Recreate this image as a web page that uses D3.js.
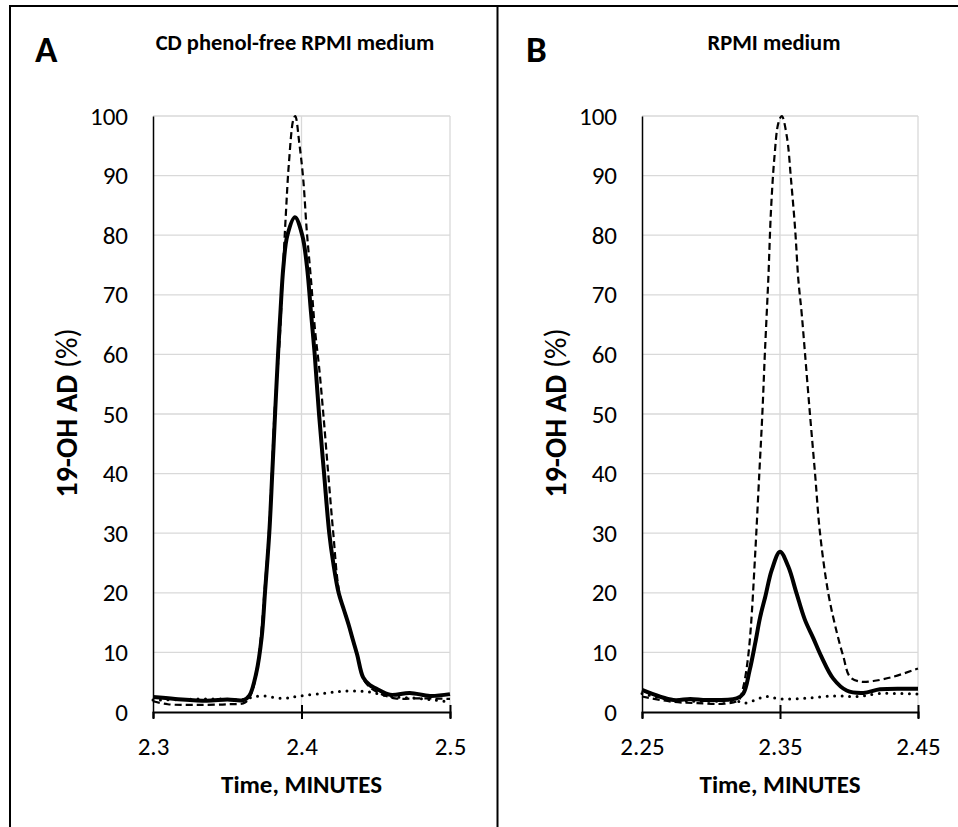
<!DOCTYPE html>
<html lang="en">
<head>
    <meta charset="UTF-8">
    <title>19-OH AD chromatograms</title>
    <style>
        body {
            margin: 0;
            padding: 0;
            background-color: #fff;
        }
        svg text {
            font-family: Calibri, Carlito, Lato, sans-serif;
            fill: #000;
        }
        .grid line {
            stroke: #d9d9d9;
            stroke-width: 1.3;
        }
    </style>
    <script src="https://d3js.org/d3.v7.min.js"></script>
</head>
<body>
    <svg id="chart" width="958" height="827"></svg>

    <script>
        const width = 958;
        const height = 827;

        // y axis (shared by both panels)
        const yTicks = [0, 10, 20, 30, 40, 50, 60, 70, 80, 90, 100];

        // panel A: CD phenol-free RPMI medium  [time (min), 19-OH AD %]
        const xTicksA = [2.3, 2.4, 2.5];
        const solidA = [
            [2.300, 2.5], [2.315, 2.2], [2.336, 1.9], [2.350, 2.1], [2.361, 2.0],
            [2.365, 2.8], [2.3695, 6.5], [2.3732, 12.6], [2.3754, 20], [2.3783, 30],
            [2.3803, 40], [2.3822, 50], [2.3842, 60], [2.3858, 67], [2.3878, 74.7],
            [2.3905, 80], [2.3956, 83], [2.4005, 80], [2.4037, 74.7], [2.4064, 67],
            [2.4089, 60], [2.4118, 50], [2.4152, 40], [2.4187, 30], [2.4214, 25],
            [2.4250, 20], [2.4285, 17.2], [2.4318, 14.6], [2.4345, 12.2], [2.4375, 9.6],
            [2.4415, 5.8], [2.446, 4.5], [2.4506, 3.9], [2.4596, 2.9], [2.473, 3.2],
            [2.4865, 2.7], [2.500, 3.0]
        ];
        const dashedA = [
            [2.300, 1.8], [2.310, 1.3], [2.330, 1.2], [2.350, 1.3], [2.362, 1.6],
            [2.366, 3], [2.370, 7], [2.3728, 13], [2.375, 20], [2.378, 30],
            [2.380, 40], [2.382, 51], [2.3852, 62], [2.3872, 72.5], [2.3895, 83.7],
            [2.3915, 92], [2.3945, 99.4], [2.3958, 100], [2.3985, 95.5], [2.4012, 89.3],
            [2.4035, 80.9], [2.4064, 72.5], [2.4091, 64.1], [2.4118, 58], [2.4147, 50],
            [2.418, 40], [2.4214, 30], [2.4255, 20], [2.4318, 14.5], [2.438, 9],
            [2.443, 5], [2.4506, 3.4], [2.463, 2.3], [2.480, 2.3], [2.500, 2.2]
        ];
        const dottedA = [
            [2.300, 2.0], [2.320, 2.1], [2.340, 2.2], [2.360, 2.1], [2.372, 2.7],
            [2.388, 2.3], [2.399, 2.7], [2.4145, 3.1], [2.428, 3.5], [2.444, 3.4],
            [2.460, 2.6], [2.478, 2.3], [2.500, 1.7]
        ];

        // panel B: RPMI medium
        const xTicksB = [2.25, 2.35, 2.45];
        const solidB = [
            [2.250, 3.7], [2.2727, 2.0], [2.285, 2.2], [2.297, 2.0], [2.3186, 2.3],
            [2.3234, 3.1], [2.328, 7], [2.332, 11.5], [2.3355, 15.8], [2.3395, 19.5],
            [2.344, 23.8], [2.350, 26.9], [2.356, 24.4], [2.362, 19.9], [2.368, 15.5],
            [2.3741, 12.4], [2.380, 9.3], [2.3886, 5.6], [2.3983, 3.6], [2.4104, 3.2],
            [2.4225, 3.8], [2.4418, 3.9], [2.450, 3.9]
        ];
        const dashedB = [
            [2.250, 2.6], [2.2727, 1.7], [2.290, 1.5], [2.310, 1.4], [2.320, 2.0],
            [2.3234, 4.2], [2.3265, 8.5], [2.3288, 14], [2.3319, 26], [2.335, 40],
            [2.3372, 50], [2.3391, 60.5], [2.3415, 72.5], [2.3435, 84.3], [2.346, 93.2],
            [2.3488, 98.8], [2.3513, 100], [2.355, 96.5], [2.358, 89.3], [2.361, 80.9],
            [2.3633, 72.5], [2.3657, 66.9], [2.368, 60.5], [2.3717, 50], [2.3754, 40],
            [2.379, 30], [2.385, 19.9], [2.391, 13.5], [2.3959, 9.3], [2.4007, 5.9],
            [2.408, 5.1], [2.4176, 5.2], [2.432, 5.9], [2.450, 7.3]
        ];
        const dottedB = [
            [2.250, 3.1], [2.2727, 2.0], [2.307, 1.8], [2.3236, 1.7], [2.326, 1.5],
            [2.333, 2.1], [2.340, 2.6], [2.350, 2.2], [2.369, 2.3], [2.389, 2.7],
            [2.4056, 2.6], [2.4225, 3.1], [2.450, 3.0]
        ];

        const svg = d3.select("#chart");

        // frame: outer border and panel divider
        svg.append("path")
            .attr("d", "M10,827 V6 H958")
            .attr("fill", "none")
            .attr("stroke", "#000")
            .attr("stroke-width", 2);
        svg.append("line")
            .attr("x1", 497.5).attr("x2", 497.5)
            .attr("y1", 6).attr("y2", height)
            .attr("stroke", "#000")
            .attr("stroke-width", 2);

        const panels = [
            {
                letter: "A", title: "CD phenol-free RPMI medium", titleX: 295,
                left: 153, right: 450, letterX: 35,
                xTicks: xTicksA, solid: solidA, dashed: dashedA, dotted: dottedA
            },
            {
                letter: "B", title: "RPMI medium", titleX: 774,
                left: 642, right: 918, letterX: 526,
                xTicks: xTicksB, solid: solidB, dashed: dashedB, dotted: dottedB
            }
        ];

        const plotTop = 116, plotBottom = 712;

        panels.forEach(p => {
            const x = d3.scaleLinear()
                .domain([p.xTicks[0], p.xTicks[p.xTicks.length - 1]])
                .range([p.left, p.right]);
            const y = d3.scaleLinear().domain([0, 100]).range([plotBottom, plotTop]);

            const g = svg.append("g");

            // gridlines
            g.append("g").attr("class", "grid")
                .selectAll("line")
                .data(yTicks.slice(1))
                .enter().append("line")
                .attr("x1", p.left).attr("x2", p.right)
                .attr("y1", d => y(d)).attr("y2", d => y(d));
            g.append("g").attr("class", "grid")
                .selectAll("line")
                .data(p.xTicks.slice(1))
                .enter().append("line")
                .attr("x1", d => x(d)).attr("x2", d => x(d))
                .attr("y1", plotTop).attr("y2", plotBottom);

            // y axis
            const yAxis = g.append("g")
                .attr("transform", `translate(${p.left},0)`)
                .call(d3.axisLeft(y).tickValues(yTicks).tickSize(0).tickPadding(25));
            yAxis.select(".domain").attr("stroke", "#000").attr("stroke-width", 1.5);
            yAxis.selectAll("text").style("font-size", "25px");

            // x axis with cross tick marks
            const xAxis = g.append("g")
                .attr("transform", `translate(0,${plotBottom})`)
                .call(d3.axisBottom(x).tickValues(p.xTicks).tickSize(6).tickPadding(19)
                    .tickFormat(d => d));
            xAxis.select(".domain").attr("stroke", "#000").attr("stroke-width", 2);
            xAxis.selectAll(".tick line")
                .attr("y1", (d, i) => i === 0 ? 0 : -7)
                .attr("y2", 7)
                .attr("stroke", "#000")
                .attr("stroke-width", 2);
            xAxis.selectAll("text").style("font-size", "25px");

            // series (smoothed lines)
            const line = d3.line()
                .x(d => x(d[0]))
                .y(d => y(d[1]))
                .curve(d3.curveCatmullRom.alpha(0.5));

            g.append("path")
                .datum(p.dotted)
                .attr("d", line)
                .attr("fill", "none")
                .attr("stroke", "#000")
                .attr("stroke-width", 3)
                .attr("stroke-linecap", "round")
                .attr("stroke-dasharray", "0,7.5");
            g.append("path")
                .datum(p.dashed)
                .attr("d", line)
                .attr("fill", "none")
                .attr("stroke", "#000")
                .attr("stroke-width", 2.2)
                .attr("stroke-dasharray", "7,4");
            g.append("path")
                .datum(p.solid)
                .attr("d", line)
                .attr("fill", "none")
                .attr("stroke", "#000")
                .attr("stroke-width", 4)
                .attr("stroke-linejoin", "round");

            // panel letter and title
            g.append("text")
                .attr("x", p.letterX)
                .attr("y", 62)
                .style("font-size", "37px")
                .style("font-weight", "bold")
                .text(p.letter);
            g.append("text")
                .attr("x", p.titleX)
                .attr("y", 50)
                .attr("text-anchor", "middle")
                .style("font-size", "22.5px")
                .style("font-weight", "bold")
                .text(p.title);

            // axis titles
            const yTitle = g.append("text")
                .attr("transform", `translate(${p.left - 76},${(plotTop + plotBottom) / 2 - 1}) rotate(-90)`)
                .attr("text-anchor", "middle")
                .style("font-size", "30px");
            yTitle.append("tspan").style("font-weight", "bold").text("19-OH AD ");
            yTitle.append("tspan").text("(%)");

            g.append("text")
                .attr("x", (p.left + p.right) / 2)
                .attr("y", 793)
                .attr("text-anchor", "middle")
                .style("font-size", "25px")
                .style("font-weight", "bold")
                .text("Time, MINUTES");
        });
    </script>
</body>
</html>
